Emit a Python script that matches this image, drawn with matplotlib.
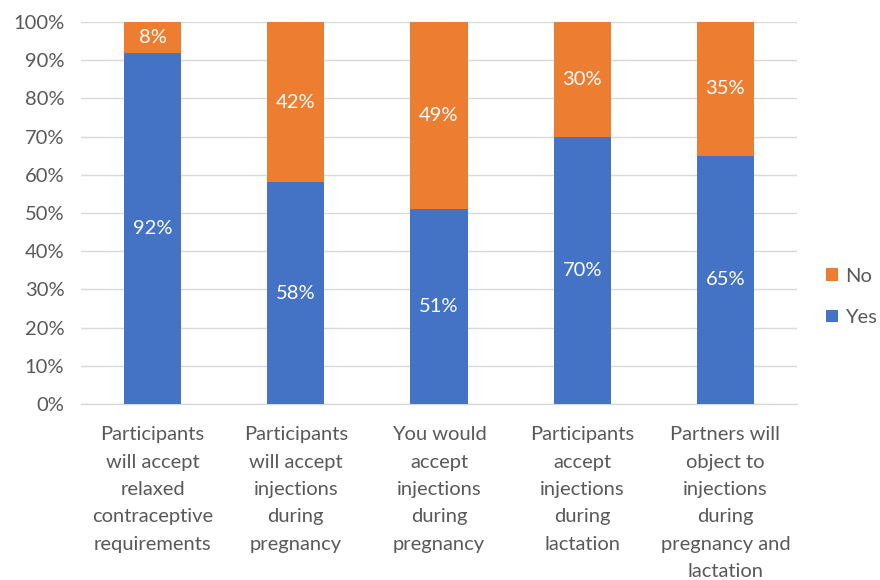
import numpy as np
import matplotlib.pyplot as plt

categories = [
    'Participants\nwill accept\nrelaxed\ncontraceptive\nrequirements',
    'Participants\nwill accept\ninjections\nduring\npregnancy',
    'You would\naccept\ninjections\nduring\npregnancy',
    'Participants\naccept\ninjections\nduring\nlactation',
    'Partners will\nobject to\ninjections\nduring\npregnancy and\nlactation',
]
yes = [92, 58, 51, 70, 65]
no = [8, 42, 49, 30, 35]

plt.rcParams['font.family'] = ['Lato', 'DejaVu Sans']
text_color = '#595959'
blue = '#4472C4'
orange = '#ED7D31'
fs = 14.5

fig = plt.figure(figsize=(8.8, 5.8), dpi=100)
ax = fig.add_axes([81 / 880, 1 - 404 / 580, (797 - 81) / 880, (404 - 22) / 580])

x = np.arange(len(categories))
b_yes = ax.bar(x, yes, width=0.4, color=blue, label='Yes', zorder=3)
b_no = ax.bar(x, no, width=0.4, bottom=yes, color=orange, label='No', zorder=3)

for bar, v in zip(b_yes, yes):
    ax.text(bar.get_x() + bar.get_width() / 2, v / 2, f'{v}%', ha='center', va='center',
            color='white', fontsize=fs)
for bar, v, b in zip(b_no, no, yes):
    ax.text(bar.get_x() + bar.get_width() / 2, b + v / 2, f'{v}%', ha='center', va='center',
            color='white', fontsize=fs)

ax.set_xlim(-0.5, len(categories) - 0.5)
ax.set_ylim(0, 100)
ax.set_yticks(np.arange(0, 101, 10))
ax.set_yticklabels([f'{t}%' for t in range(0, 101, 10)])
ax.set_xticks(x)
ax.set_xticklabels(categories)
ax.tick_params(axis='both', length=0, labelsize=fs, colors=text_color)
ax.tick_params(axis='x', pad=16)
ax.tick_params(axis='y', pad=12)
for lab in ax.get_xticklabels():
    lab.set_linespacing(1.74)

ax.grid(axis='y', color='#D9D9D9', linewidth=1, zorder=0)
for s in ['top', 'right', 'left']:
    ax.spines[s].set_visible(False)
ax.spines['bottom'].set_color('#D9D9D9')
ax.spines['bottom'].set_linewidth(1)

handles, labels = ax.get_legend_handles_labels()
leg = fig.legend(handles[::-1], labels[::-1], loc='center left', bbox_to_anchor=(826 / 880, 1 - 297 / 580),
                 frameon=False, fontsize=fs, handlelength=0.6, handleheight=0.6, handletextpad=0.35,
                 labelspacing=1.2, borderpad=0, borderaxespad=0)
for t in leg.get_texts():
    t.set_color(text_color)

fig.savefig('out.png', dpi=100)
